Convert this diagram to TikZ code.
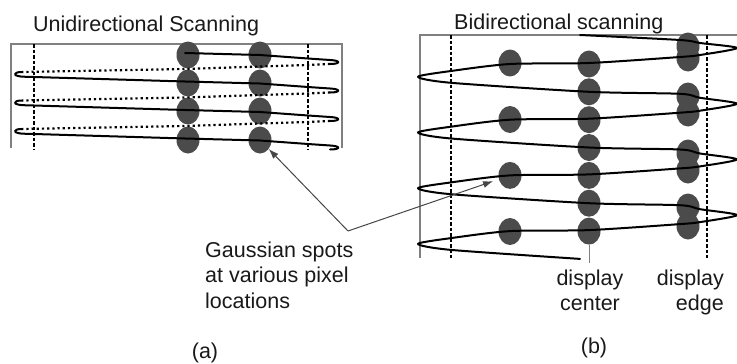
\documentclass[tikz,border=0pt]{standalone}
\usepackage{fontspec}
\setmainfont{Liberation Sans}
\usetikzlibrary{shapes.geometric,arrows.meta}
\definecolor{spot}{RGB}{75,75,75}
\definecolor{frame}{RGB}{128,128,128}
\definecolor{ink}{RGB}{25,25,25}
\definecolor{pointer}{RGB}{70,70,70}
\begin{document}
\begin{tikzpicture}[x=1pt,y=-1pt,
  spotnode/.style={ellipse,fill=spot,draw=none,minimum width=23pt,minimum height=27pt,inner sep=0pt},
  framel/.style={draw=frame,line width=1.1pt},
  guide/.style={draw=black,line width=1.4pt,dash pattern=on 3.5pt off 2pt},
  scan/.style={draw=black,line width=2pt,line join=round,line cap=round},
  retrace/.style={draw=black,line width=2.2pt,dash pattern=on 2.2pt off 3pt},
  lbl/.style={font=\fontsize{21.5}{25.5}\selectfont,text=ink,inner sep=0pt},
  pointerline/.style={draw=pointer,line width=1pt,-{Latex[length=10pt,width=7pt]}}
]
\useasboundingbox (0,0) rectangle (737,364);

% ---------- (a) unidirectional ----------
\draw[framel] (11,148) -- (11,44) -- (342,44) -- (342,148);
\draw[guide] (34,44) -- (34,150);
\draw[guide] (308,44) -- (308,150);

\foreach \c/\x in {1/188,2/260}
  \foreach \r/\y in {1/55,2/83,3/111,4/140}
    \node[spotnode] (la-\c-\r) at (\x,\y) {};

% first solid line
\draw[scan] (185,53) -- (260,55) -- (308,58.5) -- (330,60)
  .. controls (341,60.5) and (341,64) .. (330,64);
% following solid lines with hooks
\foreach \k in {1,2,3}{
  \pgfmathsetmacro\b{53+28.5*\k}
  \draw[scan] (22,\b-9.5) .. controls (12,\b-9.5) and (12,\b-4.7) .. (26,\b-4.7)
    -- (34,\b-4.5) -- (185,\b) -- (260,\b+2) -- (308,\b+5.5) -- (330,\b+7)
    .. controls (341,\b+7.5) and (341,\b+11) .. (330,\b+11);
}
% dotted retrace lines
\foreach \k in {0,1,2}{
  \pgfmathsetmacro\b{53+28.5*\k}
  \draw[retrace] (330,\b+11) -- (308,\b+12) -- (260,\b+13.5) -- (185,\b+16) -- (22,\b+19);
}

% ---------- (b) bidirectional ----------
\draw[framel] (420,258) -- (420,35) -- (737,35);
\draw[guide] (451,35) -- (451,258);
\draw[guide] (707,35) -- (707,258);

\coordinate (cfoot) at (589,263);

\foreach \r/\y in {1/63,2/119.5,3/175.4,4/231.5}
  \node[spotnode] (rb-1-\r) at (510,\y) {};
\foreach \r/\y in {1/64,2/91.8,3/119.7,4/147.5,5/175.4,6/203.2,7/231.1}
  \node[spotnode] (rb-2-\r) at (589,\y) {};
\foreach \r/\y in {1/46,2/58,3/96,4/113,5/153,6/170,7/207,8/226}
  \node[spotnode] (rb-3-\r) at (688,\y) {};

\draw[draw=frame,line width=0.9pt] (rb-2-7.south) -- (cfoot);

\draw[scan] plot[smooth,tension=0.45] coordinates {
  (580,35) (680,40) (700,43) (737,48)
  (700,55) (680,57) (589,63) (510,64) (451,71) (418,76.8)
  (451,82.8) (589,91.8) (680,93.8) (700,97.8) (737,103.7)
  (700,110.7) (680,112.7) (589,118.7) (510,119.7) (451,126.7) (418,132.5)
  (451,138.5) (589,147.5) (680,149.5) (700,153.5) (737,159.4)
  (700,166.4) (680,168.4) (589,174.4) (510,175.4) (451,182.4) (418,188.2)
  (451,194.2) (589,203.2) (680,205.2) (700,209.2) (737,215.1)
  (700,222.1) (680,224.1) (589,230.1) (510,231.1) (451,238.1) (418,243.9)
  (451,249.9) (580,258.9)};

% ---------- pointers ----------
\coordinate (vtx) at (348,231);
\draw[pointerline] (vtx) -- (la-2-4);
\draw[pointerline,shorten >=6pt] (vtx) -- (rb-1-3);

% ---------- texts ----------
\node[lbl,anchor=base west] (titlea) at (33,31) {Unidirectional Scanning};
\node[lbl,anchor=base west] (titleb) at (454,30) {Bidirectional scanning};
\node[lbl,anchor=base west] (gauss) at (205,257)
  {\begin{tabular}[t]{@{}l@{}}Gaussian spots\\at various pixel\\locations\end{tabular}};
\node[lbl,anchor=base] (dcenter) at (590,285)
  {\begin{tabular}[t]{@{}c@{}}display\\center\end{tabular}};
\node[lbl,anchor=base east] (dedge) at (724,285)
  {\begin{tabular}[t]{@{}r@{}}display\\edge\end{tabular}};
\node[lbl,anchor=base] (capa) at (205,358.5) {(a)};
\node[lbl,anchor=base] (capb) at (594,353) {(b)};
\end{tikzpicture}
\end{document}
